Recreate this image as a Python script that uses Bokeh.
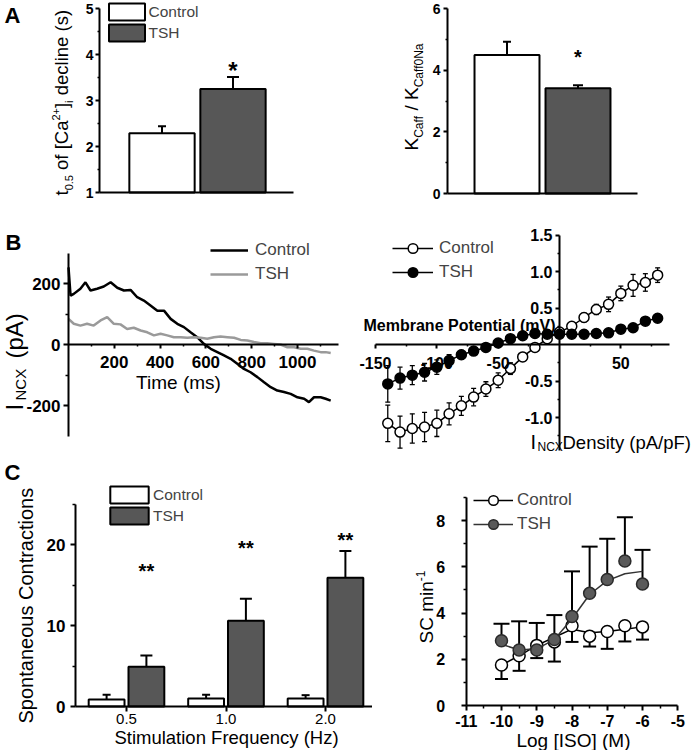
import math
from bokeh.plotting import figure
from bokeh.models import Range1d, FixedTicker, Legend, LegendItem, Label, PrintfTickFormatter
from bokeh.layouts import row, column
from bokeh.embed import file_html
from bokeh.resources import INLINE
from bokeh.core.properties import value

FONT = "Liberation Sans"
BAR_GRAY = "#575757"
TRACE_GRAY = "#9a9a9a"

# ---------------- data ----------------
# Panel A
a_groups = ["Control", "TSH"]
a_t05 = [2.29, 3.25]
a_t05_err = [0.15, 0.26]
a_t05_sig = [3.65]            # star above TSH
a_kratio = [4.49, 3.41]
a_kratio_err = [0.43, 0.10]
a_kratio_sig = [4.43]

# Panel B left: I_NCX traces
b_time_ctrl = [0, 9, 23, 52, 74, 96, 125, 154, 184, 213, 242, 271, 300, 329, 358, 388, 417,
               446, 475, 504, 533, 562, 591, 621, 650, 679, 708, 737, 766, 795, 825, 854, 883,
               912, 941, 970, 1000, 1029, 1050, 1072, 1101, 1123, 1145]
b_incx_ctrl = [253, 160, 166, 183, 204, 177, 183, 190, 204, 186, 177, 179, 155, 144, 128, 111,
               111, 84, 68, 57, 40, 24, 2, -14, -25, -36, -47, -63, -80, -91, -107, -124, -140,
               -151, -156, -162, -173, -178, -189, -173, -173, -178, -184]
b_time_tsh = [0, 23, 52, 81, 110, 140, 169, 198, 227, 256, 285, 315, 344, 373, 402, 431, 460,
              490, 519, 548, 577, 606, 635, 664, 694, 723, 752, 781, 810, 839, 868, 897, 926,
              956, 985, 1014, 1043, 1072, 1101, 1123, 1145]
b_incx_tsh = [84, 68, 62, 68, 62, 79, 90, 68, 66, 51, 55, 46, 40, 30, 35, 30, 24, 24, 22, 24,
              22, 19, 24, 26, 24, 22, 15, 13, 8, 4, 4, 2, 0, -9, -9, -14, -14, -20, -25, -25, -28]

# Panel B right: I-V relation
b_vm = [-140, -130, -120, -110, -100, -90, -80, -70, -60, -50, -40, -30, -20, -10, 0, 10, 20,
        30, 40, 50, 60, 70, 80]
b_dens_ctrl = [-1.08, -1.20, -1.15, -1.13, -1.08, -0.95, -0.84, -0.72, -0.61, -0.49, -0.33,
               -0.17, -0.04, 0.08, 0.17, 0.25, 0.37, 0.48, 0.55, 0.70, 0.81, 0.85, 0.95]
b_dens_ctrl_err = [0.25, 0.22, 0.20, 0.20, 0.18, 0.15, 0.13, 0.12, 0.10, 0.10, 0.08, 0.06,
                   0.05, 0.04, 0.04, 0.05, 0.06, 0.07, 0.10, 0.10, 0.15, 0.12, 0.10]
b_dens_tsh = [-0.54, -0.46, -0.42, -0.38, -0.31, -0.22, -0.14, -0.09, -0.04, 0.02, 0.08, 0.12,
              0.15, 0.14, 0.14, 0.14, 0.14, 0.15, 0.16, 0.21, 0.23, 0.32, 0.36]
b_dens_tsh_err = [0.25, 0.15, 0.13, 0.12, 0.10, 0.08, 0.06, 0.05, 0.04, 0.04, 0.04, 0.04,
                  0.04, 0.04, 0.04, 0.04, 0.04, 0.04, 0.04, 0.04, 0.04, 0.04, 0.04]

# Panel C left: spontaneous contractions
c_freq = ["0.5", "1.0", "2.0"]
c_sc_ctrl = [0.85, 1.0, 1.0]
c_sc_ctrl_err = [0.6, 0.45, 0.4]
c_sc_tsh = [4.9, 10.6, 15.9]
c_sc_tsh_err = [1.4, 2.7, 3.3]
c_sig = [16.7, 19.6, 20.6]

# Panel C right: ISO dose response
c_logiso = [-10, -9.5, -9, -8.5, -8, -7.5, -7, -6.5, -6]
c_iso_ctrl = [1.75, 2.15, 2.6, 2.75, 3.45, 3.0, 3.2, 3.45, 3.4]
c_iso_ctrl_err = [0.6, 0.65, 0.55, 0.85, 0.7, 0.45, 0.75, 0.68, 0.55]
c_iso_ctrl_fit = [1.75, 2.15, 2.6, 2.95, 3.3, 3.15, 3.2, 3.3, 3.4]
c_iso_tsh = [2.8, 2.4, 2.4, 2.85, 3.85, 4.85, 5.45, 6.25, 5.25]
c_iso_tsh_err = [0.73, 1.24, 1.17, 1.06, 1.95, 2.02, 1.76, 1.89, 1.48]
c_iso_tsh_fit = [2.65, 2.4, 2.45, 2.85, 3.75, 4.8, 5.4, 5.7, 5.8]

# tick definitions
a_left_ticks = [1, 2, 3, 4, 5]
a_left_minor = [1.5, 2.5, 3.5, 4.5]
a_right_ticks = [0, 2, 4, 6]
a_right_minor = [1, 3, 5]
b_left_xticks = [200, 400, 600, 800, 1000]
b_left_xminor = [100, 300, 500, 700, 900, 1100]
b_left_yticks = [-200, 0, 200]
b_left_yminor = [-100, 100]
b_right_xticks = [-150, -100, -50, 50]
b_right_xminor = [-125, -75, -25, 25, 75]
b_right_yticks = [-1.0, -0.5, 0.5, 1.0, 1.5]
b_right_yminor = [-1.25, -0.75, -0.25, 0.25, 0.75, 1.25]
c_left_yticks = [0, 10, 20]
c_left_yminor = [5, 15, 25]
c_right_xticks = [-11, -10, -9, -8, -7, -6, -5]
c_right_xminor = [-10.5, -9.5, -8.5, -7.5, -6.5, -5.5]
c_right_yticks = [0, 2, 4, 6, 8]
c_right_yminor = [1, 3, 5, 7, 9]

# ---------------- helpers ----------------
W = {' ': 278, '(': 333, ')': 333, '*': 389, '+': 584, ',': 278, '-': 333, '.': 278, '/': 278,
     'A': 667, 'C': 722, 'D': 722, 'F': 611, 'I': 278, 'K': 667, 'M': 833, 'N': 722, 'P': 667,
     'S': 667, 'X': 667, '[': 278, ']': 278, 'a': 556, 'c': 500, 'd': 556, 'e': 556, 'f': 278,
     'i': 222, 'l': 222, 'm': 833, 'n': 556, 'o': 556, 'p': 556, 's': 500, 't': 278, 'y': 500}
BASE_K = 0.27   # Bokeh label baseline sits this many em below the anchor


def text_w(s, size):
    return sum(W.get(ch, 556) for ch in s) * size / 1000.0


def make_fig(ox, oy, w, h, mx, my):
    """Figure whose frame is the whole canvas; mx/my = (d0, p0, d1, p1) page-pixel mapping."""
    sx = (mx[3] - mx[1]) / (mx[2] - mx[0])
    sy = (my[3] - my[1]) / (my[2] - my[0])

    def conv(px, py):
        return mx[0] + (px - mx[1]) / sx, my[0] + (py - my[1]) / sy

    x0, y1 = conv(ox, oy)
    x1, y0 = conv(ox + w, oy + h)
    p = figure(width=w, height=h, x_range=Range1d(x0, x1), y_range=Range1d(y0, y1),
               output_backend="svg", toolbar_location=None,
               min_border_left=0, min_border_right=0, min_border_top=0, min_border_bottom=0)
    p.outline_line_color = None
    p.xgrid.visible = False
    p.ygrid.visible = False
    p.background_fill_color = "white"
    p.border_fill_color = "white"
    return p, conv


def style_axis(ax, ticks, minor, size, fmt, loc, bounds, bold=True, tick_out=4, standoff=3, lw=2):
    ax.fixed_location = loc
    ax.bounds = bounds
    ax.ticker = FixedTicker(ticks=ticks, minor_ticks=minor)
    ax.formatter = PrintfTickFormatter(format=fmt)
    ax.axis_line_width = lw
    ax.axis_line_color = "black"
    ax.major_tick_line_width = lw
    ax.minor_tick_line_width = 1.5
    ax.major_tick_out = tick_out
    ax.major_tick_in = 0
    ax.minor_tick_out = max(2, tick_out - 2)
    ax.minor_tick_in = 0
    ax.major_label_text_font = FONT
    ax.major_label_text_font_size = f"{size}px"
    ax.major_label_text_font_style = "bold" if bold else "normal"
    ax.major_label_text_color = "black"
    ax.major_label_standoff = standoff


def bare_axis(ax, loc, bounds, lw=2):
    ax.fixed_location = loc
    ax.bounds = bounds
    ax.ticker = FixedTicker(ticks=[])
    ax.axis_line_width = lw
    ax.axis_line_color = "black"
    ax.major_label_standoff = 0


def lab(p, conv, text, px, py, size, angle=0.0, align="left", style="normal"):
    # px, py: page pixel of the text baseline start (or centre for align="center")
    if angle == 0.0:
        py -= BASE_K * size
    else:
        px -= BASE_K * size
    x, y = conv(px, py)
    p.add_layout(Label(x=x, y=y, text=text, angle=angle, text_align=align,
                       text_baseline="alphabetic", text_font=FONT,
                       text_font_size=f"{size}px", text_font_style=style,
                       text_color="black"))


def rot_rich(p, conv, pieces, bx, y0, f):
    y = y0
    for txt, kind in pieces:
        if kind == "n":
            fs, dx = f, 0.0
        elif kind == "sub":
            fs, dx = round(f * 0.62), f * 0.28
        else:
            fs, dx = round(f * 0.62), -f * 0.40
        body = txt.lstrip(" ")
        y -= text_w(txt[:len(txt) - len(body)], fs)
        lab(p, conv, body, bx + dx, y, fs, angle=math.pi / 2)
        y -= text_w(body, fs)


def make_legend(items, loc, gw, gh, spacing, fsize, standoff):
    return Legend(items=items, location=loc, glyph_width=gw, glyph_height=gh,
                  label_height=gh, spacing=spacing, padding=0, margin=0,
                  label_standoff=standoff, label_text_font=FONT,
                  label_text_font_size=f"{fsize}px", border_line_alpha=0,
                  background_fill_alpha=0)


# ---------------- Panel A left ----------------
OX, OY, WW, HH = 0, 0, 350, 205
pa1, ca1 = make_fig(OX, OY, WW, HH, (1, 161.5, 2, 232.5), (1, 192, 5, 8))
a_pos = [i + 1 for i in range(len(a_groups))]
ax_x = ca1(99, 0)[0]
style_axis(pa1.yaxis[0], a_left_ticks, a_left_minor, 14, "%d", ax_x, (1, 5), tick_out=4, standoff=2)
bare_axis(pa1.xaxis[0], 1, (ax_x, ca1(293, 0)[0]))
r_a1c = pa1.vbar(x=[a_pos[0]], top=[a_t05[0]], bottom=1, width=0.92,
                 fill_color="white", line_color="black", line_width=2)
r_a1t = pa1.vbar(x=[a_pos[1]], top=[a_t05[1]], bottom=1, width=0.92,
                 fill_color=BAR_GRAY, line_color="black", line_width=2)
a1_top = [v + e for v, e in zip(a_t05, a_t05_err)]
pa1.segment(x0=a_pos, y0=a_t05, x1=a_pos, y1=a1_top, line_color="black", line_width=2)
pa1.scatter(x=a_pos, y=a1_top, marker="dash", size=[8, 12], line_color="black", line_width=2)
pa1.text(x=[a_pos[1]], y=a_t05_sig, text=["*"], text_font=value(FONT),
         text_font_size=value("24px"), text_font_style="bold", text_align="center",
         text_baseline="middle")
pa1.add_layout(make_legend([LegendItem(label=a_groups[0], renderers=[r_a1c]),
                            LegendItem(label=a_groups[1], renderers=[r_a1t])],
                           (103.5 - OX, OY + HH - 43), 45, 21, -1, 15.5, 0))
lab(pa1, ca1, "A", 4, 21, 22, style="bold")
rot_rich(pa1, ca1, [("t", "n"), ("0.5", "sub"), (" of [Ca", "n"), ("2+", "sup"), ("]", "n"),
                    ("i", "sub"), (" decline (s)", "n")], 66, 195, 18.5)

# ---------------- Panel A right ----------------
OX, OY, WW, HH = 350, 0, 350, 205
pa2, ca2 = make_fig(OX, OY, WW, HH, (1, 506.5, 2, 577.5), (0, 193, 6, 8))
ax_x = ca2(447, 0)[0]
style_axis(pa2.yaxis[0], a_right_ticks, a_right_minor, 14, "%d", ax_x, (0, 6), tick_out=4, standoff=3)
bare_axis(pa2.xaxis[0], 0, (ax_x, ca2(637, 0)[0]))
pa2.vbar(x=[a_pos[0]], top=[a_kratio[0]], bottom=0, width=0.915,
         fill_color="white", line_color="black", line_width=2)
pa2.vbar(x=[a_pos[1]], top=[a_kratio[1]], bottom=0, width=0.915,
         fill_color=BAR_GRAY, line_color="black", line_width=2)
a2_top = [v + e for v, e in zip(a_kratio, a_kratio_err)]
pa2.segment(x0=a_pos, y0=a_kratio, x1=a_pos, y1=a2_top, line_color="black", line_width=2)
pa2.scatter(x=a_pos, y=a2_top, marker="dash", size=[8, 10], line_color="black", line_width=2)
pa2.text(x=[a_pos[1]], y=a_kratio_sig, text=["*"], text_font=value(FONT),
         text_font_size=value("20px"), text_font_style="bold", text_align="center",
         text_baseline="middle")
rot_rich(pa2, ca2, [("K", "n"), ("Caff", "sub"), (" / K", "n"), ("Caff0Na", "sub")],
         416, 150, 19)

# ---------------- Panel B left ----------------
OX, OY, WW, HH = 0, 205, 350, 250
pb1, cb1 = make_fig(OX, OY, WW, HH, (0, 68, 1000, 297), (0, 344, 200, 283))
style_axis(pb1.yaxis[0], b_left_yticks, b_left_yminor, 17, "%d", 0, (-300, 300), tick_out=5, standoff=3)
style_axis(pb1.xaxis[0], b_left_xticks, b_left_xminor, 17, "%d", 0, (0, 1180), tick_out=4, standoff=7)
r_b1c = pb1.line(b_time_ctrl, b_incx_ctrl, line_color="black", line_width=2.5)
r_b1t = pb1.line(b_time_tsh, b_incx_tsh, line_color=TRACE_GRAY, line_width=2.5)
pb1.add_layout(make_legend([LegendItem(label="Control", renderers=[r_b1c]),
                            LegendItem(label="TSH", renderers=[r_b1t])],
                           (210 - OX, OY + HH - 286), 38, 24, -2, 17, 7))
lab(pb1, cb1, "B", 5, 248, 22, style="bold")
lab(pb1, cb1, "Time (ms)", 178, 387, 19, align="center")
lab(pb1, cb1, "I", 20, 410, 24, angle=math.pi / 2)
lab(pb1, cb1, "NCX", 24, 400, 15, angle=math.pi / 2)
lab(pb1, cb1, "(pA)", 20, 358, 24, angle=math.pi / 2)

# ---------------- Panel B right ----------------
OX, OY, WW, HH = 350, 205, 350, 250
pb2, cb2 = make_fig(OX, OY, WW, HH, (-150, 375, 0, 559), (0, 344, 1.0, 271))
style_axis(pb2.yaxis[0], b_right_yticks, b_right_yminor, 16, "%.1f", 0, (-1.45, 1.5), tick_out=4, standoff=3)
style_axis(pb2.xaxis[0], b_right_xticks, b_right_xminor, 16, "%d", 0, (-150, 90), tick_out=4, standoff=8)
for ys, es in ((b_dens_ctrl, b_dens_ctrl_err), (b_dens_tsh, b_dens_tsh_err)):
    lo = [v - e for v, e in zip(ys, es)]
    hi = [v + e for v, e in zip(ys, es)]
    pb2.segment(x0=b_vm, y0=lo, x1=b_vm, y1=hi, line_color="black", line_width=1.3)
    pb2.scatter(x=b_vm + b_vm, y=lo + hi, marker="dash", size=5, line_color="black",
                line_width=1.3)
l_c = pb2.line(b_vm, b_dens_ctrl, line_color="black", line_width=1.5)
m_c = pb2.scatter(b_vm, b_dens_ctrl, marker="circle", size=10, fill_color="white",
                  line_color="black", line_width=1.5)
l_t = pb2.line(b_vm, b_dens_tsh, line_color="black", line_width=1.5)
m_t = pb2.scatter(b_vm, b_dens_tsh, marker="circle", size=10, fill_color="black",
                  line_color="black", line_width=1.5)
pb2.add_layout(make_legend([LegendItem(label="Control", renderers=[l_c, m_c]),
                            LegendItem(label="TSH", renderers=[l_t, m_t])],
                           (392 - OX, OY + HH - 284), 41, 24, 0, 17, 6))
lab(pb2, cb2, "Membrane Potential (mV)", 363, 329, 16, style="bold")
lab(pb2, cb2, "I", 530, 447, 20)
lab(pb2, cb2, "NCX", 537, 450, 12)
lab(pb2, cb2, "Density (pA/pF)", 562, 447, 18.5)

# ---------------- Panel C left ----------------
OX, OY, WW, HH = 0, 455, 372, 295
pc1, cc1 = make_fig(OX, OY, WW, HH, (0, 126, 2, 325), (0, 706, 20, 544))
c_idx = list(range(len(c_freq)))
ax_x = cc1(75, 0)[0]
style_axis(pc1.yaxis[0], c_left_yticks, c_left_yminor, 17, "%d", ax_x, (0, 25), tick_out=5, standoff=5)
style_axis(pc1.xaxis[0], c_idx, [], 15, "%d", 0, (ax_x, cc1(372, 0)[0]), bold=False, tick_out=5, standoff=2)
pc1.xaxis.major_label_overrides = {i: s for i, s in zip(c_idx, c_freq)}
x_ctrl = [i - 0.2 for i in c_idx]
x_tsh = [i + 0.2 for i in c_idx]
r_c1c = pc1.vbar(x=x_ctrl, top=c_sc_ctrl, bottom=0, width=0.36, fill_color="white",
                 line_color="black", line_width=2)
r_c1t = pc1.vbar(x=x_tsh, top=c_sc_tsh, bottom=0, width=0.36, fill_color=BAR_GRAY,
                 line_color="black", line_width=2)
c_ctrl_top = [v + e for v, e in zip(c_sc_ctrl, c_sc_ctrl_err)]
c_tsh_top = [v + e for v, e in zip(c_sc_tsh, c_sc_tsh_err)]
pc1.segment(x0=x_ctrl, y0=c_sc_ctrl, x1=x_ctrl, y1=c_ctrl_top, line_color="black", line_width=2)
pc1.scatter(x=x_ctrl, y=c_ctrl_top, marker="dash", size=8, line_color="black", line_width=2)
pc1.segment(x0=x_tsh, y0=c_sc_tsh, x1=x_tsh, y1=c_tsh_top, line_color="black", line_width=2)
pc1.scatter(x=x_tsh, y=c_tsh_top, marker="dash", size=12, line_color="black", line_width=2)
pc1.text(x=x_tsh, y=c_sig, text=["**"] * len(c_sig), text_font=value(FONT),
         text_font_size=value("20px"), text_font_style="bold", text_align="center",
         text_baseline="middle")
pc1.add_layout(make_legend([LegendItem(label="Control", renderers=[r_c1c]),
                            LegendItem(label="TSH", renderers=[r_c1t])],
                           (105 - OX, OY + HH - 526), 48, 21, -2, 15.5, 0))
lab(pc1, cc1, "C", 4, 478, 22, style="bold")
lab(pc1, cc1, "Spontaneous Contractions", 31, 723, 20, angle=math.pi / 2)
lab(pc1, cc1, "Stimulation Frequency (Hz)", 226, 742, 18.5, align="center")

# ---------------- Panel C right ----------------
OX, OY, WW, HH = 372, 455, 328, 295
pc2, cc2 = make_fig(OX, OY, WW, HH, (-10, 501, -6, 642), (0, 705, 8, 520))
style_axis(pc2.yaxis[0], c_right_yticks, c_right_yminor, 16, "%d", -11, (0, 9), tick_out=5, standoff=16)
style_axis(pc2.xaxis[0], c_right_xticks, c_right_xminor, 16, "%d", 0, (-11, -5), tick_out=5, standoff=4)
t_hi = [v + e for v, e in zip(c_iso_tsh, c_iso_tsh_err)]
c_lo = [v - e for v, e in zip(c_iso_ctrl, c_iso_ctrl_err)]
pc2.segment(x0=c_logiso, y0=c_iso_ctrl, x1=c_logiso, y1=c_lo, line_color="black", line_width=2)
pc2.scatter(x=c_logiso, y=c_lo, marker="dash", size=13, line_color="black", line_width=2)
pc2.segment(x0=c_logiso, y0=c_iso_tsh, x1=c_logiso, y1=t_hi, line_color="black", line_width=2)
pc2.scatter(x=c_logiso, y=t_hi, marker="dash", size=16, line_color="black", line_width=2)
lc2 = pc2.line(c_logiso, c_iso_ctrl_fit, line_color="black", line_width=1.5)
mc2 = pc2.scatter(c_logiso, c_iso_ctrl, marker="circle", size=12, fill_color="white",
                  line_color="black", line_width=1.5)
lt2 = pc2.line(c_logiso, c_iso_tsh_fit, line_color="#333333", line_width=1.5)
mt2 = pc2.scatter(c_logiso, c_iso_tsh, marker="circle", size=12, fill_color="#5a5a5a",
                  line_color="#2a2a2a", line_width=1.5)
pc2.add_layout(make_legend([LegendItem(label="Control", renderers=[lc2, mc2]),
                            LegendItem(label="TSH", renderers=[lt2, mt2])],
                           (473 - OX, OY + HH - 536), 40, 24, -2, 17, 4))
rot_rich(pc2, cc2, [("SC min", "n"), ("-1", "sup")], 431, 643, 19)
lab(pc2, cc2, "Log [ISO] (M)", 573, 745, 19, align="center")

layout = column(row(pa1, pa2), row(pb1, pb2), row(pc1, pc2))
open("out.html", "w").write(file_html(layout, INLINE))
